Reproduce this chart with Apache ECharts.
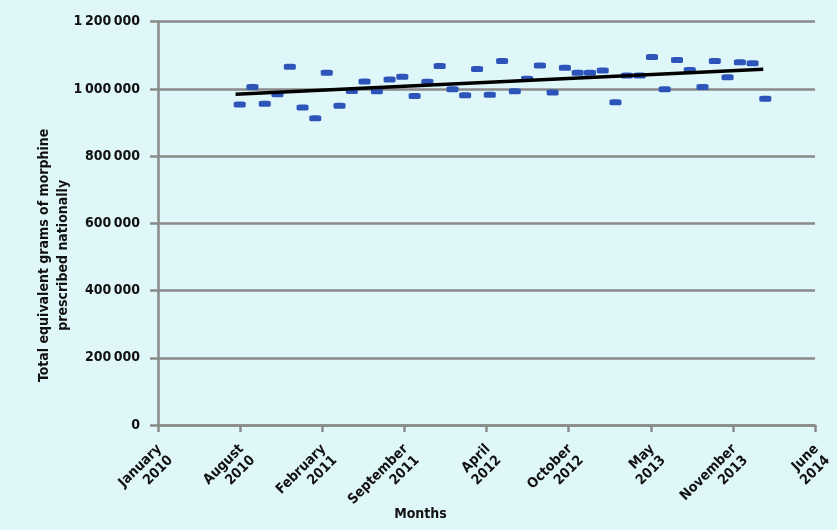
<!DOCTYPE html>
<html>
<head>
<meta charset="utf-8">
<script src="https://cdn.jsdelivr.net/npm/echarts@6/dist/echarts.min.js"></script>
<style>
html,body{margin:0;padding:0;background:#e0f7f9;}
#chart{width:837px;height:530px;}
</style>
</head>
<body>
<div id="chart"></div>
<script>
// Monthly observations (month, total equivalent grams of morphine)
var months = ['2010-08','2010-09','2010-10','2010-11','2010-12','2011-01','2011-02','2011-03','2011-04','2011-05','2011-06','2011-07','2011-08','2011-09','2011-10','2011-11','2011-12','2012-01','2012-02','2012-03','2012-04','2012-05','2012-06','2012-07','2012-08','2012-09','2012-10','2012-11','2012-12','2013-01','2013-02','2013-03','2013-04','2013-05','2013-06','2013-07','2013-08','2013-09','2013-10','2013-11','2013-12','2014-01','2014-02'];
var grams = [954000,1006000,956000,984000,1066000,945000,913000,1048000,950000,994000,1022000,993000,1028000,1036000,979000,1021000,1068000,999000,981000,1059000,983000,1083000,993000,1030000,1070000,989000,1063000,1048000,1048000,1055000,960000,1040000,1040000,1095000,999000,1086000,1056000,1006000,1083000,1035000,1079000,1076000,971000];
// Linear trend line end points
var trendDates = ['2010-07-30','2014-02-04'];
var trendValues = [984000, 1058400];
// Axis tick labels
var xTickLabels = ['January\n2010','August\n2010','February\n2011','September\n2011','April\n2012','October\n2012','May\n2013','November\n2013','June\n2014'];
var yTickLabels = ['0','200\u2009000','400\u2009000','600\u2009000','800\u2009000','1\u2009000\u2009000','1\u2009200\u2009000'];

var axisStart = Date.UTC(2010,0,22);
var tickDays = 200;
function dayOffset(s){
  var p = s.split('-');
  var d = p.length > 2 ? +p[2] : 9;
  return (Date.UTC(+p[0], +p[1]-1, d) - axisStart) / 86400000;
}
var points = months.map(function(m,i){ return [dayOffset(m), grams[i]]; });
var trend = trendDates.map(function(m,i){ return [dayOffset(m), trendValues[i]]; });

var FONT = 'DejaVu Sans Condensed';
var GREY = '#8a8a8a';
var chart = echarts.init(document.getElementById('chart'));
chart.setOption({
  backgroundColor: '#e0f7f9',
  animation: false,
  grid: {left: 158, right: 22, top: 21.7, bottom: 105, containLabel: false, outerBoundsMode: 'none'},
  xAxis: {
    type: 'value', min: 0, max: tickDays * 8, interval: tickDays,
    name: 'Months', nameLocation: 'middle', nameGap: 82, nameMoveOverlap: false,
    nameTextStyle: {fontFamily: FONT, fontWeight: 'bold', fontSize: 14, color: '#111', padding: [0, 132, 0, 0]},
    axisLine: {show: true, lineStyle: {color: GREY, width: 2.5}},
    axisTick: {show: true, length: 7, lineStyle: {color: GREY, width: 2.5}},
    splitLine: {show: false},
    axisLabel: {
      rotate: 45, margin: 12, align: 'right', verticalAlign: 'top', padding: [0, 6, 0, 0],
      fontFamily: FONT, fontWeight: 'bold', fontSize: 14, color: '#111', lineHeight: 16,
      formatter: function(v){ return xTickLabels[Math.round(v / tickDays)] || ''; }
    }
  },
  yAxis: {
    type: 'value', min: 0, max: 1200000, interval: 200000,
    name: 'Total equivalent grams of morphine\nprescribed nationally',
    nameLocation: 'middle', nameGap: 85, nameRotate: 90, nameMoveOverlap: false,
    nameTextStyle: {fontFamily: FONT, fontWeight: 'bold', fontSize: 14, color: '#111', lineHeight: 19, padding: [0, 64, 0, 0]},
    axisLine: {show: true, lineStyle: {color: GREY, width: 2.5}},
    axisTick: {show: true, length: 8, lineStyle: {color: GREY, width: 2.5}},
    splitLine: {show: true, lineStyle: {color: GREY, width: 2.5}},
    axisLabel: {
      margin: 18, fontFamily: FONT, fontWeight: 'bold', fontSize: 14, color: '#111',
      formatter: function(v){ return yTickLabels[Math.round(v / 200000)]; }
    }
  },
  series: [
    {
      type: 'scatter', data: points, symbol: 'roundRect', symbolSize: [12, 6],
      itemStyle: {color: '#2d55b9', opacity: 1}, z: 3
    },
    {
      type: 'line', data: trend, symbol: 'none',
      lineStyle: {color: '#000', width: 3.5}, z: 4
    }
  ]
});
</script>
</body>
</html>
